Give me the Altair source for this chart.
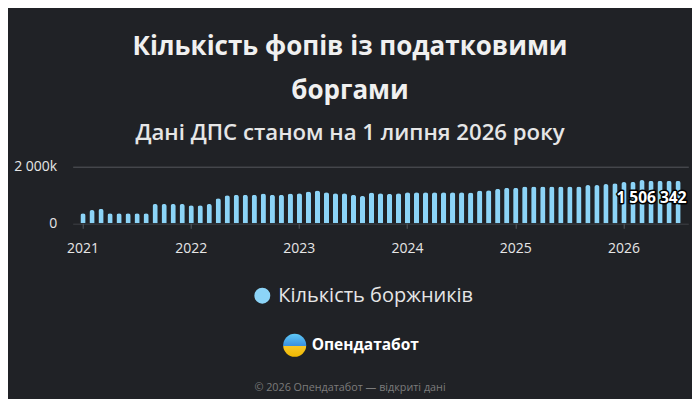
import altair as alt
import pandas as pd

# ---- data ----
years = [2021, 2022, 2023, 2024, 2025, 2026]
debtors_2021 = [353000, 470000, 517000, 353000, 353000, 353000, 353000, 353000, 683000, 683000, 683000, 683000]
debtors_2022 = [636000, 636000, 683000, 883000, 995000, 1005000, 1005000, 1005000, 1055000, 1005000, 1005000, 1055000]
debtors_2023 = [1060000, 1125000, 1160000, 1095000, 1060000, 1060000, 1005000, 966000, 1090000, 1060000, 1045000, 1060000]
debtors_2024 = [1100000, 1100000, 1100000, 1100000, 1100000, 1100000, 1100000, 1084000, 1160000, 1172000, 1220000, 1260000]
debtors_2025 = [1260000, 1300000, 1300000, 1300000, 1300000, 1300000, 1300000, 1300000, 1350000, 1350000, 1385000, 1414000]
debtors_2026 = [1455000, 1462000, 1530000, 1500000, 1500000, 1500000, 1506342]

series_name = "Кількість боржників"
title_lines = ["Кількість фопів із податковими", "боргами"]
subtitle_text = "Дані ДПС станом на 1 липня 2026 року"
brand_name = "Опендатабот"
footer_note = "© 2026 Опендатабот — відкриті дані"

values = debtors_2021 + debtors_2022 + debtors_2023 + debtors_2024 + debtors_2025 + debtors_2026
months = [f"{y}-{m:02d}" for y in years for m in range(1, 13)][: len(values)]

df = pd.DataFrame({"month": months, "debtors": values, "series": [series_name] * len(values)})
last_df = pd.DataFrame({"month": [months[-1]], "debtors": [values[-1]]})
brand_df = pd.DataFrame({"t": [brand_name]})
footer_df = pd.DataFrame({"t": [footer_note]})

# ---- styles ----
BG = "#202226"
TEXT = "#e6e6e6"
BAR = "#8cd4f7"
FONT = "Open Sans"
GRID = "#55585c"

jan_test = "substring(datum.value, 5, 7) == '01'"

x = alt.X(
    "month:O",
    sort=months,
    title=None,
    scale=alt.Scale(paddingInner=0.42, paddingOuter=0.85),
    axis=alt.Axis(
        labelExpr=f"{jan_test} ? substring(datum.value, 0, 4) : ''",
        labelAngle=0,
        labelFontSize=14,
        labelColor=TEXT,
        labelFont=FONT,
        labelPadding=13,
        labelOverlap=False,
        tickSize=5,
        tickColor=GRID,
        tickOpacity={"condition": {"test": jan_test, "value": 1}, "value": 0},
        domain=False,
        grid=False,
    ),
)

y = alt.Y(
    "debtors:Q",
    title=None,
    scale=alt.Scale(domain=[0, 2000000], nice=False),
    axis=alt.Axis(
        values=[0, 2000000],
        labelExpr="datum.value == 0 ? '0' : replace(format(datum.value / 1000, ','), ',', ' ') + 'k'",
        grid=True,
        gridColor={"condition": {"test": "datum.value == 0", "value": "#3e4044"}, "value": GRID},
        ticks=False,
        domain=False,
        labelPadding=16,
        labelFontSize=14,
        labelColor=TEXT,
        labelFont=FONT,
    ),
)

bars = alt.Chart(df).mark_bar(cornerRadiusTopLeft=2.5, cornerRadiusTopRight=2.5).encode(
    x=x,
    y=y,
    color=alt.Color(
        "series:N",
        scale=alt.Scale(range=[BAR]),
        legend=alt.Legend(
            title=None,
            orient="none",
            legendX=179.6,
            legendY=119,
            symbolType="circle",
            symbolSize=254,
            symbolStrokeWidth=0,
            symbolOpacity=1,
            labelFontSize=20,
            labelColor=TEXT,
            labelFont=FONT,
            labelOffset=6,
            labelLimit=0,
            padding=0,
        ),
    ),
)

label_expr = "replace(replace(format(datum.debtors, ','), ',', ' '), ',', ' ')"
label_outline = (
    alt.Chart(last_df)
    .transform_calculate(label=label_expr)
    .mark_text(align="right", baseline="middle", dx=8.5, dy=17, fontSize=15.5, fontWeight="bold",
               font=FONT, stroke="#000000", strokeWidth=3, strokeJoin="round", fill="#000000")
    .encode(x=x, y=y, text="label:N")
)
label_fill = (
    alt.Chart(last_df)
    .transform_calculate(label=label_expr)
    .mark_text(align="right", baseline="middle", dx=8.5, dy=17, fontSize=15.5, fontWeight="bold",
               font=FONT, color="#ffffff")
    .encode(x=x, y=y, text="label:N")
)

logo_gradient = alt.LinearGradient(
    gradient="linear",
    x1=0, y1=0, x2=0, y2=1,
    stops=[
        alt.GradientStop(offset=0, color="#5fcaf7"),
        alt.GradientStop(offset=0.52, color="#3a90e0"),
        alt.GradientStop(offset=0.52, color="#f7c82a"),
        alt.GradientStop(offset=1, color="#f0b800"),
    ],
)
icon = alt.Chart(brand_df).mark_point(filled=True, shape="circle", size=531, opacity=1, color=logo_gradient).encode(
    x=alt.value(222), y=alt.value(178.6)
)
brand = alt.Chart(brand_df).mark_text(align="left", baseline="middle", fontSize=15.5, fontWeight="bold",
                                      font=FONT, color="#ffffff").encode(
    x=alt.value(239), y=alt.value(178.6), text="t:N"
)
footer = alt.Chart(footer_df).mark_text(align="center", baseline="middle", fontSize=10.8,
                                        font=FONT, color="#7c7c7c").encode(
    x=alt.value(277.3), y=alt.value(221), text="t:N"
)

chart = (
    alt.layer(bars, label_outline, label_fill, icon, brand, footer)
    .properties(
        width=615.6,
        height=56.6,
        autosize="none",
        padding={"left": 64.7, "top": 158.7, "right": 3.7, "bottom": 176},
        background=BG,
        title=alt.TitleParams(
            text=title_lines,
            subtitle=subtitle_text,
            anchor="middle",
            frame="group",
            dx=-30.5,
            offset=15,
            font=FONT,
            fontSize=26,
            fontWeight="bold",
            color="#f0f0f0",
            lineHeight=44,
            subtitleFont=FONT,
            subtitleFontSize=22.2,
            subtitleFontWeight=600,
            subtitleColor="#e6e6e6",
            subtitlePadding=18,
        ),
    )
    .configure_view(stroke=None)
)

chart.save("out.html", embed_options={"renderer": "svg", "actions": False})
